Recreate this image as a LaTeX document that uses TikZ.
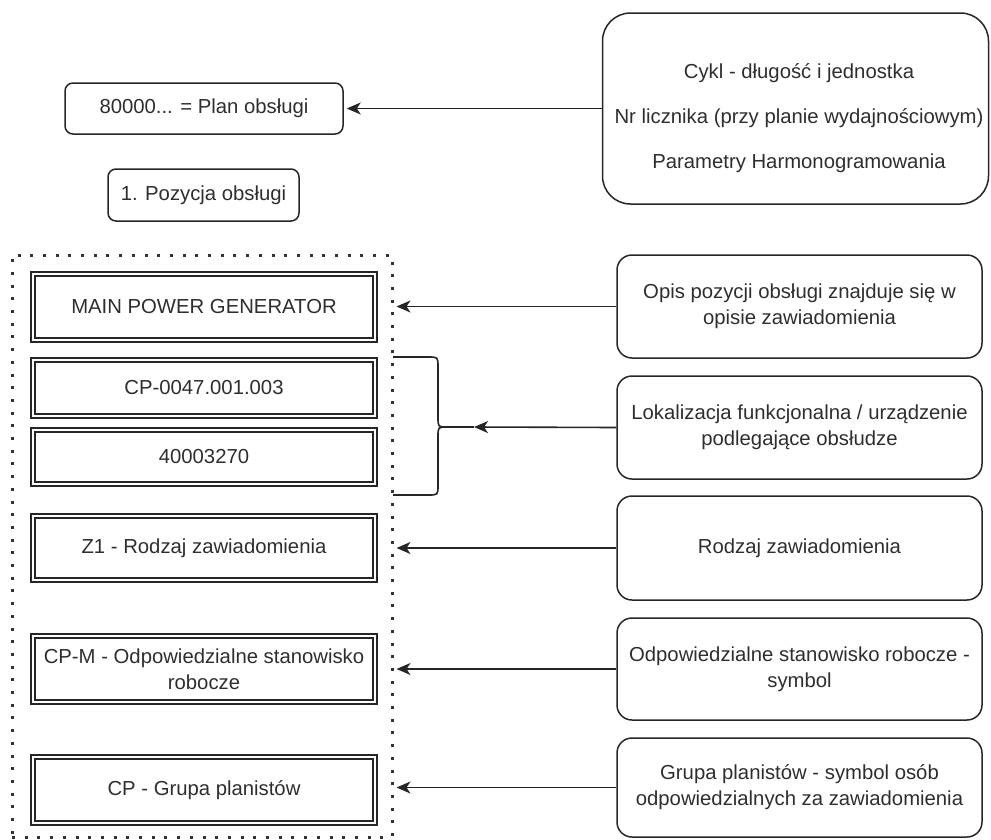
\documentclass[tikz,border=0pt]{standalone}
\usepackage{fontspec}
\setmainfont{Liberation Sans}
\usetikzlibrary{arrows.meta}

\tikzset{
  txt/.style={text=black!82, font=\fontsize{20.3}{26}\selectfont, align=center, inner sep=0pt},
  roundbox/.style={txt, draw=black!85, line width=1.5pt, rounded corners=15pt},
  smallround/.style={txt, draw=black!85, line width=1.5pt, rounded corners=8pt},
  dblbox/.style={txt, draw=black!85, line width=1.4pt, double=white, double distance=2.4pt,
    minimum width=342pt},
  dotframe/.style={draw=black!80, line width=3pt, dash pattern=on 3pt off 9.7pt},
  link/.style={draw=black!85, line width=1.6pt},
  arrowlink/.style={link, -{Stealth[length=14pt,width=12pt,inset=4pt]}},
}

\begin{document}
\begin{tikzpicture}[x=1pt, y=-1pt]
  \useasboundingbox (0,0) rectangle (991,839);

  % header boxes
  \node[smallround, minimum width=278pt, minimum height=51pt] (plan) at (204,108.5)
    {80000... = Plan obsługi};
  \node[smallround, minimum width=191pt, minimum height=52pt] (poz) at (203.5,195)
    {1. Pozycja obsługi};
  \node[roundbox, rounded corners=28pt, minimum width=386pt, minimum height=191pt] (params)
    at (795.5,108.5) {};
  \node[txt, font=\fontsize{20.3}{45}\selectfont] (paramstext) at (799,118)
    {Cykl - długość i jednostka\\Nr licznika (przy planie wydajnościowym)\\Parametry Harmonogramowania};

  % dotted group of notification fields
  \node[dotframe, minimum width=380pt, minimum height=582pt, inner sep=0pt] (group) at (202,546) {};

  \node[dblbox, minimum height=66pt] (gen) at (204,307) {MAIN POWER GENERATOR};
  \node[dblbox, minimum height=56pt] (floc) at (204,388) {CP-0047.001.003};
  \node[dblbox, minimum height=54pt] (equi) at (204,457) {40003270};
  \node[dblbox, minimum height=64pt] (ntype) at (204,548) {Z1 - Rodzaj zawiadomienia};
  \node[dblbox, minimum height=66pt] (wc) at (204,669) {CP-M - Odpowiedzialne stanowisko\\robocze};
  \node[dblbox, minimum height=66pt] (pg) at (204,790) {CP - Grupa planistów};

  % descriptions on the right
  \node[roundbox, minimum width=365pt, minimum height=103pt] (dopis) at (799.5,306.5)
    {Opis pozycji obsługi znajduje się w\\opisie zawiadomienia};
  \node[roundbox, minimum width=365pt, minimum height=103pt] (dlok) at (799.5,427.5)
    {Lokalizacja funkcjonalna / urządzenie\\podlegające obsłudze};
  \node[roundbox, minimum width=365pt, minimum height=104pt] (drodz) at (799.5,548)
    {Rodzaj zawiadomienia};
  \node[roundbox, minimum width=365pt, minimum height=102pt] (dstan) at (799.5,669)
    {Odpowiedzialne stanowisko robocze -\\symbol};
  \node[roundbox, minimum width=365pt, minimum height=99pt] (dgrup) at (799.5,787.5)
    {Grupa planistów - symbol osób\\odpowiedzialnych za zawiadomienia};

  % curly bracket around the location / equipment pair
  \coordinate (brtop) at (393,357);
  \coordinate (brbot) at (393,495);
  \coordinate (brtip) at (447,427);
  \coordinate (lokend) at (474,427);
  \draw[link] (brtop) -- (428,357) .. controls (438,357) .. (438,367) -- (438,417)
    .. controls (438,427) .. (brtip) .. controls (438,427) .. (438,437) -- (438,485)
    .. controls (438,495) .. (428,495) -- (brbot);

  % connectors
  \draw[arrowlink] (params.west |- plan.east) -- ([xshift=3pt]plan.east);
  \draw[arrowlink] (dopis.west) -- ([xshift=3pt]dopis.west -| group.east);
  \draw[arrowlink] (dlok.west) -- (lokend);
  \draw[link] (lokend) -- (brtip);
  \draw[arrowlink] (drodz.west) -- ([xshift=3pt]drodz.west -| group.east);
  \draw[arrowlink] (dstan.west) -- ([xshift=3pt]dstan.west -| group.east);
  \draw[arrowlink] (dgrup.west) -- ([xshift=3pt]dgrup.west -| group.east);
\end{tikzpicture}
\end{document}
